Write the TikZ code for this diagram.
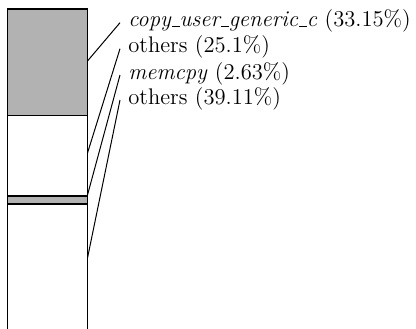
\documentclass[tikz,border=0pt]{standalone}
\newcommand\otus{\leavevmode\kern.06em\vbox{\hrule height 0.42pt width .33em}}
\begin{document}
\begin{tikzpicture}[x=0.5pt,y=-0.5pt,
  seg/.style={draw=black,line width=0.6pt},
  lbl/.style={anchor=base west,inner xsep=4pt,inner ysep=0pt,text height=6pt,text depth=2pt,font=\fontsize{11.3}{13.5}\selectfont},
  lead/.style={line width=0.5pt}]
\useasboundingbox (0,0) rectangle (416,328);
\begin{scope}
\clip (0,0) rectangle (416,328);
\path[seg,fill=gray!60] (7.5,9) rectangle (87.5,115.5);
\path[seg,fill=white] (7.5,115.5) rectangle (87.5,196);
\path[seg,fill=gray!60] (7.5,196) rectangle (87.5,204);
\path[seg,fill=white] (7.5,204) rectangle (87.5,340);
\end{scope}
\coordinate (s1) at (87.5,61);
\coordinate (s2) at (87.5,153);
\coordinate (s3) at (87.5,195);
\coordinate (s4) at (87.5,258);
\node[lbl] (l1) at (120,26.7) {\textit{copy\otus user\otus generic\otus c} (33.15\%)};
\node[lbl] (l2) at (120,52.7) {others (25.1\%)};
\node[lbl] (l3) at (120,79) {\textit{memcpy} (2.63\%)};
\node[lbl] (l4) at (120,104) {others (39.11\%)};
\draw[lead] (s1) -- (l1.west);
\draw[lead] (s2) -- (l2.west);
\draw[lead] (s3) -- (l3.west);
\draw[lead] (s4) -- (l4.west);
\end{tikzpicture}
\end{document}
